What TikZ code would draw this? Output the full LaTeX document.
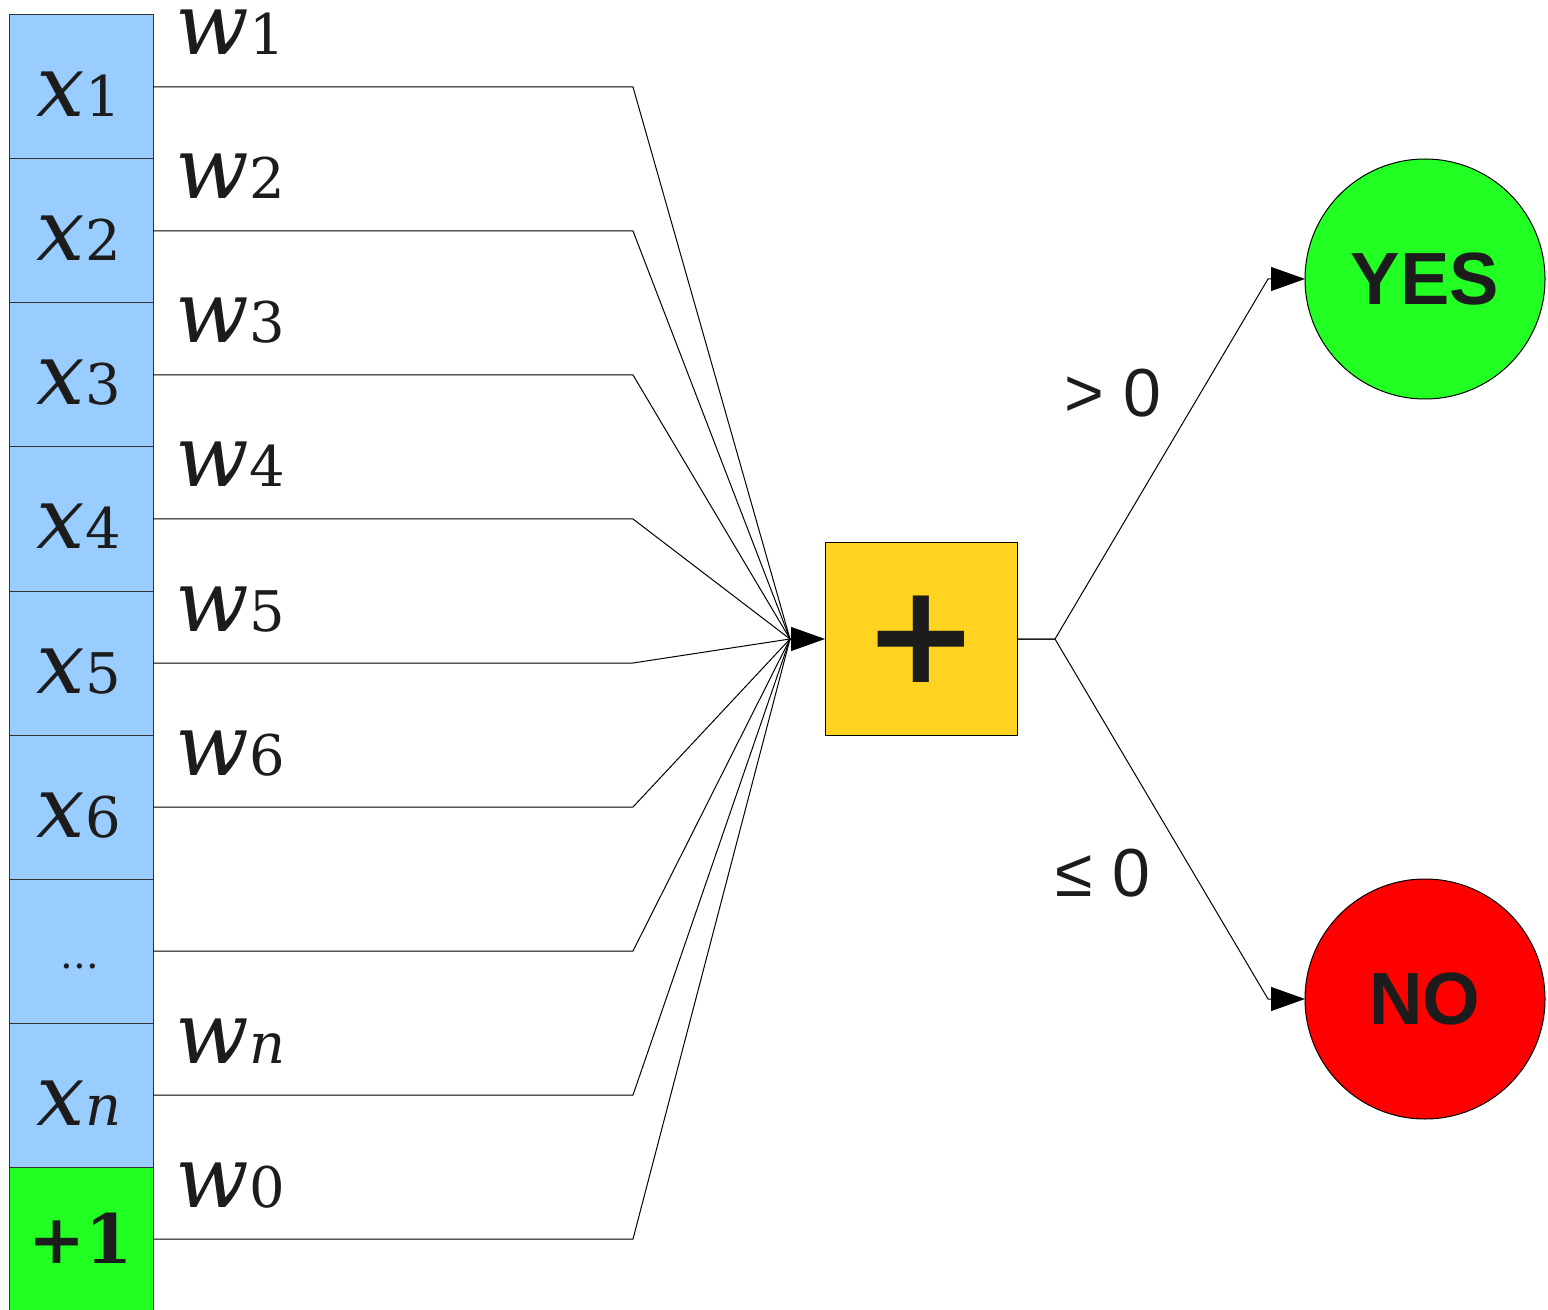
\documentclass[tikz,border=0pt]{standalone}
\usepackage{fontspec}
\setmainfont{DejaVu Serif}
\newfontfamily\dvsans{DejaVu Sans}
\newfontfamily\arialf{Liberation Sans}
\usetikzlibrary{arrows.meta}
\definecolor{inblue}{HTML}{99CCFF}
\definecolor{bgreen}{HTML}{22FF22}
\definecolor{sumyel}{HTML}{FFD320}
\definecolor{txt}{HTML}{1C1C1C}
\definecolor{nored}{HTML}{FF0000}
\newcommand\xl[2]{{\fontsize{43pt}{43pt}\selectfont\itshape #1}{\fontsize{28pt}{28pt}\selectfont #2}}
\begin{document}
\begin{tikzpicture}[x=0.5pt,y=-0.5pt,
  inbox/.style={draw=black!80, line width=0.5pt, fill=inblue, minimum width=72pt, minimum height=72pt, inner sep=0pt, outer sep=0pt},
  lab/.style={anchor=base, text=txt, inner sep=0pt},
  wlab/.style={anchor=base west, text=txt, inner sep=0pt},
  wire/.style={draw=black, line width=0.5pt},
  tip/.style={-{Triangle[length=17pt,width=12pt]}},
  outc/.style={circle, draw=black, line width=0.5pt, minimum size=120pt, inner sep=0pt, outer sep=0pt, text=txt, font=\arialf\bfseries\fontsize{37pt}{37pt}\selectfont},
  cond/.style={text=txt, inner sep=0pt, font=\arialf\fontsize{34pt}{34pt}\selectfont}]
\useasboundingbox (0,0) rectangle (1548,1310);
% input boxes
\node[inbox] (x1) at (81,87) {};
\node[inbox] (x2) at (81,231) {};
\node[inbox] (x3) at (81,375) {};
\node[inbox] (x4) at (81,519) {};
\node[inbox] (x5) at (81,663) {};
\node[inbox] (x6) at (81,807) {};
\node[inbox] (xd) at (81,951) {};
\node[inbox] (xn) at (81,1095) {};
\node[inbox, fill=bgreen] (xb) at (81,1239) {};
% input labels
\node[lab] (lx1) at (79,117) {\xl{x}{1}};
\node[lab] (lx2) at (79,261) {\xl{x}{2}};
\node[lab] (lx3) at (79,405) {\xl{x}{3}};
\node[lab] (lx4) at (79,549) {\xl{x}{4}};
\node[lab] (lx5) at (79,693) {\xl{x}{5}};
\node[lab] (lx6) at (79,837) {\xl{x}{6}};
\node[lab] (lxd) at (80,968) {\fontsize{20pt}{20pt}\selectfont ...};
\node[lab] (lxn) at (79,1125) {\xl{x}{\itshape n}};
\node[lab] (lxb) at (81,1263) {\fontsize{34pt}{34pt}\selectfont\bfseries +1};
% weight labels
\node[wlab] (w1) at (175,55) {\xl{w}{1}};
\node[wlab] (w2) at (175,199) {\xl{w}{2}};
\node[wlab] (w3) at (175,343) {\xl{w}{3}};
\node[wlab] (w4) at (175,487) {\xl{w}{4}};
\node[wlab] (w5) at (175,631) {\xl{w}{5}};
\node[wlab] (w6) at (175,775) {\xl{w}{6}};
\node[wlab] (wn) at (175,1063) {\xl{w}{\itshape n}};
\node[wlab] (w0) at (175,1207) {\xl{w}{0}};
% sum box
\node[draw=black, line width=0.5pt, fill=sumyel, minimum width=96pt, minimum height=96pt, inner sep=0pt, outer sep=0pt, text=txt, font=\dvsans\bfseries\fontsize{69pt}{69pt}\selectfont] (sum) at (921,639) {+};
% connectors
\coordinate (bx) at (633,0);
\coordinate (conv) at (790,639);
\foreach \nm in {x1,x2,x3,x4,x5,x6,xd,xn,xb}
  \draw[wire] (\nm.east) -- (\nm.east -| bx) -- (conv);
\draw[wire, tip] (conv) -- (sum.west);
% outputs
\node[outc, fill=bgreen] (yes) at (1425,279) {YES};
\node[outc, fill=nored] (no) at (1425,999) {NO};
\coordinate (split) at (1055,639);
\draw[wire, tip] (sum.east) -- (split) -- ([xshift=-18.5pt]yes.west) -- (yes.west);
\draw[wire, tip] (sum.east) -- (split) -- ([xshift=-18.5pt]no.west) -- (no.west);
% conditions
\node[cond] (gt) at (1113,393) {> 0};
\node[cond] (le) at (1103,873) {≤ 0};
\end{tikzpicture}
\end{document}
